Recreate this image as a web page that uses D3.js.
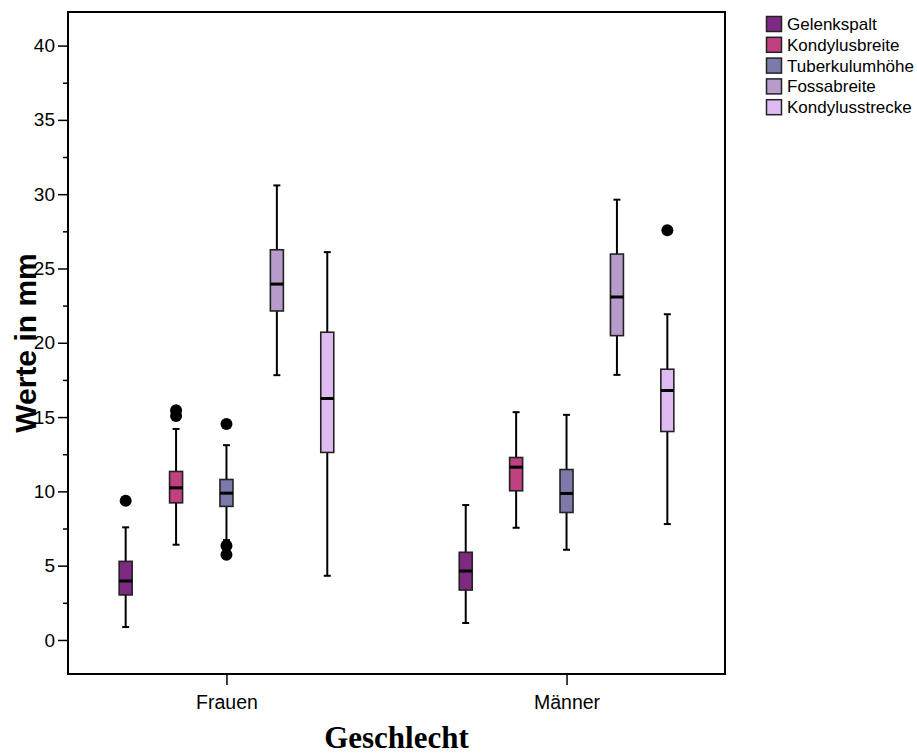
<!DOCTYPE html>
<html>
<head>
<meta charset="utf-8">
<script src="https://cdn.jsdelivr.net/npm/d3@7/dist/d3.min.js"></script>
<style>
  html, body { margin: 0; padding: 0; background: #fff; }
  svg { display: block; }
</style>
</head>
<body>
<svg id="chart" width="917" height="756"></svg>
<script>
// Gender groups and measured variables
const groups = ["Frauen", "Männer"];
const series = ["Gelenkspalt", "Kondylusbreite", "Tuberkulumhöhe", "Fossabreite", "Kondylusstrecke"];
const palette = ["#7f2a82", "#c0417f", "#7b7aab", "#b79bca", "#e0bbf1"];

// Box statistics per variable: [lower whisker, Q1, median, Q3, upper whisker]
const frauenStats = [
  [0.87, 3.03, 3.97, 5.29, 7.58],
  [6.41, 9.23, 10.24, 11.34, 14.2],
  [6.72, 8.99, 9.88, 10.8, 13.11],
  [17.82, 22.14, 23.95, 26.26, 30.59],
  [4.32, 12.62, 16.25, 20.71, 26.1]
];
const maennerStats = [
  [1.14, 3.36, 4.64, 5.9, 9.08],
  [7.55, 10.04, 11.63, 12.28, 15.33],
  [6.07, 8.58, 9.86, 11.47, 15.15],
  [17.84, 20.48, 23.08, 25.97, 29.63],
  [7.8, 14.03, 16.79, 18.22, 21.92]
];
// Outliers per variable
const frauenOutliers = [[9.37], [15.46, 15.08], [14.54, 6.34, 5.73], [], []];
const maennerOutliers = [[], [], [], [], [27.58]];

const yTicks = [0, 5, 10, 15, 20, 25, 30, 35, 40];
const yMinorTicks = [2.5, 7.5, 12.5, 17.5, 22.5, 27.5, 32.5, 37.5];

const statsByGroup = { "Frauen": frauenStats, "Männer": maennerStats };
const outliersByGroup = { "Frauen": frauenOutliers, "Männer": maennerOutliers };

const svg = d3.select("#chart");
const frame = { left: 68, right: 725, top: 12, bottom: 674 };

const y = d3.scaleLinear().domain([-2.29, 42.26]).range([frame.bottom, frame.top]);
const x = d3.scalePoint().domain(groups).range([frame.left, frame.right]).padding(0.466);
const xInner = d3.scaleBand().domain(series).range([-126, 126]);
const color = d3.scaleOrdinal().domain(series).range(palette);

const boxW = 13, capW = 7;
const sans = "Liberation Sans, Arial, sans-serif";

// Y axis (major ticks with labels, minor ticks without)
const yAxis = svg.append("g").attr("transform", `translate(${frame.left},0)`)
  .call(d3.axisLeft(y).tickValues(yTicks).tickSize(10).tickPadding(3).tickFormat(d3.format("d")));
yAxis.select(".domain").remove();
yAxis.selectAll("line").attr("stroke", "#000").attr("stroke-width", 1.5);
yAxis.selectAll("text").attr("font-family", sans).attr("font-size", 19).attr("fill", "#000");
const yMinor = svg.append("g").attr("transform", `translate(${frame.left},0)`)
  .call(d3.axisLeft(y).tickValues(yMinorTicks).tickSize(5).tickFormat(""));
yMinor.select(".domain").remove();
yMinor.selectAll("line").attr("stroke", "#000").attr("stroke-width", 1.5);

// X axis
const xAxis = svg.append("g").attr("transform", `translate(0,${frame.bottom})`)
  .call(d3.axisBottom(x).tickSize(11).tickPadding(10));
xAxis.select(".domain").remove();
xAxis.selectAll("line").attr("stroke", "#000").attr("stroke-width", 1.5);
xAxis.selectAll("text").attr("font-family", sans).attr("font-size", 19.5).attr("fill", "#000");

// Plot frame
svg.append("rect")
  .attr("x", frame.left).attr("y", frame.top)
  .attr("width", frame.right - frame.left).attr("height", frame.bottom - frame.top)
  .attr("fill", "none").attr("stroke", "#000").attr("stroke-width", 2);

// Boxplots
groups.forEach(g => {
  const stats = statsByGroup[g];
  const outs = outliersByGroup[g];
  series.forEach((s, i) => {
    const [lo, q1, med, q3, hi] = stats[i];
    const cx = x(g) + xInner(s) + xInner.bandwidth() / 2;
    const grp = svg.append("g");
    // whisker line
    grp.append("line").attr("x1", cx).attr("x2", cx).attr("y1", y(hi)).attr("y2", y(lo))
      .attr("stroke", "#000").attr("stroke-width", 2);
    // caps
    [lo, hi].forEach(v => grp.append("line")
      .attr("x1", cx - capW / 2).attr("x2", cx + capW / 2).attr("y1", y(v)).attr("y2", y(v))
      .attr("stroke", "#000").attr("stroke-width", 2));
    // box
    grp.append("rect").attr("x", cx - boxW / 2).attr("y", y(q3))
      .attr("width", boxW).attr("height", y(q1) - y(q3))
      .attr("fill", color(s)).attr("stroke", "#222").attr("stroke-width", 1.6);
    // median
    grp.append("line").attr("x1", cx - boxW / 2).attr("x2", cx + boxW / 2).attr("y1", y(med)).attr("y2", y(med))
      .attr("stroke", "#000").attr("stroke-width", 3);
    // outliers
    outs[i].forEach(v => grp.append("circle").attr("cx", cx).attr("cy", y(v)).attr("r", 6).attr("fill", "#000"));
  });
});

// Axis titles
svg.append("text")
  .attr("transform", "translate(36,343) rotate(-90)")
  .attr("text-anchor", "middle")
  .attr("font-family", sans).attr("font-weight", "bold").attr("font-size", 30)
  .text("Werte in mm");
svg.append("text")
  .attr("x", (frame.left + frame.right) / 2).attr("y", 748)
  .attr("text-anchor", "middle")
  .attr("font-family", "Liberation Serif, Times New Roman, serif").attr("font-weight", "bold").attr("font-size", 31)
  .text("Geschlecht");

// Legend
const legend = svg.append("g").attr("transform", "translate(766,16)");
series.forEach((s, i) => {
  const row = legend.append("g").attr("transform", `translate(0,${i * 20.8})`);
  row.append("rect").attr("x", 0.5).attr("y", 0.5).attr("width", 15).attr("height", 15)
    .attr("fill", color(s)).attr("stroke", "#222").attr("stroke-width", 1.5);
  row.append("text").attr("x", 21).attr("y", 14)
    .attr("font-family", sans).attr("font-size", 17)
    .text(s);
});
</script>
</body>
</html>
